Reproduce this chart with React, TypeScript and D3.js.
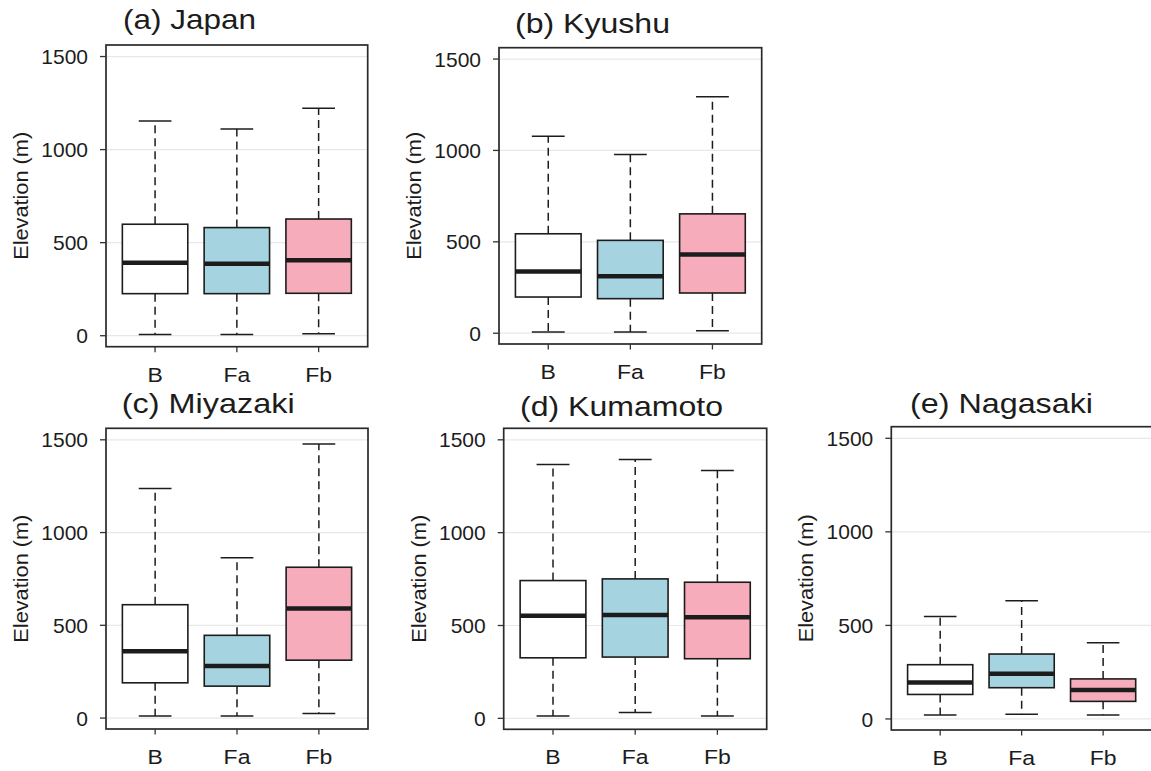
import * as d3 from 'd3';

// Elevation (m) box plot statistics, one row per region, columns B / Fa / Fb
const categories = ['B', 'Fa', 'Fb'];
const regionTitles = ['(a) Japan', '(b) Kyushu', '(c) Miyazaki', '(d) Kumamoto', '(e) Nagasaki'];
const lowerWhisker = [[7, 7, 11], [7, 7, 13], [11, 11, 25], [13, 32, 13], [21, 25, 21]];
const lowerQuartile = [[226, 226, 228], [198, 189, 220], [190, 172, 312], [326, 330, 321], [131, 167, 94]];
const medians = [[392, 387, 405], [337, 311, 431], [360, 281, 591], [552, 557, 545], [195, 242, 155]];
const upperQuartile = [[599, 581, 627], [544, 508, 653], [611, 446, 813], [742, 751, 733], [290, 347, 214]];
const upperWhisker = [[1154, 1111, 1222], [1078, 978, 1294], [1238, 864, 1477], [1367, 1394, 1335], [548, 632, 407]];
const yTicks = [0, 500, 1000, 1500];
const yDomain = [-59, 1562];

const fills = ['#ffffff', '#a5d3e0', '#f7acbc'];

// panel frames (pixel layout)
const panels = [
  { left: 106, right: 367.7, top: 45, bottom: 346.7, titleDx: 17, titleDy: 16, titleLen: 133 },
  { left: 499, right: 761.7, top: 47.7, bottom: 344, titleDx: 16, titleDy: 14.5, titleLen: 155 },
  { left: 106, right: 368, top: 428.3, bottom: 729, titleDx: 15.7, titleDy: 15, titleLen: 173 },
  { left: 503.7, right: 766.7, top: 428.3, bottom: 729.3, titleDx: 16.3, titleDy: 12.5, titleLen: 203 },
  { left: 891.3, right: 1152, top: 426.7, bottom: 730, titleDx: 18.7, titleDy: 13.5, titleLen: 183 },
];

const FONT = "'Liberation Sans', Arial, sans-serif";
const INK = '#1c1c1c';

function Panel({ idx }: { idx: number }) {
  const p = panels[idx];
  const x = d3.scalePoint<string>().domain(categories).range([p.left, p.right]).padding(0.6);
  const y = d3.scaleLinear().domain(yDomain).range([p.bottom, p.top]);
  const step = x.step();
  const boxW = step * 0.8;
  const capW = step * 0.4;

  return (
    <g>
      {/* grid */}
      {yTicks.map(t => (
        <line key={'g' + t} x1={p.left} x2={p.right} y1={y(t)} y2={y(t)} stroke="#e8e8e8" strokeWidth={1.2} />
      ))}

      {categories.map((c, i) => {
        const cx = x(c) as number;
        const lo = lowerWhisker[idx][i];
        const q1 = lowerQuartile[idx][i];
        const md = medians[idx][i];
        const q3 = upperQuartile[idx][i];
        const hi = upperWhisker[idx][i];
        return (
          <g key={c}>
            <line x1={cx} x2={cx} y1={y(q3)} y2={y(hi)} stroke={INK} strokeWidth={1.5} strokeDasharray="8,5" />
            <line x1={cx} x2={cx} y1={y(q1)} y2={y(lo)} stroke={INK} strokeWidth={1.5} strokeDasharray="8,5" />
            <line x1={cx - capW / 2} x2={cx + capW / 2} y1={y(hi)} y2={y(hi)} stroke={INK} strokeWidth={1.5} />
            <line x1={cx - capW / 2} x2={cx + capW / 2} y1={y(lo)} y2={y(lo)} stroke={INK} strokeWidth={1.5} />
            <rect x={cx - boxW / 2} width={boxW} y={y(q3)} height={y(q1) - y(q3)}
              fill={fills[i]} stroke={INK} strokeWidth={1.6} />
            <line x1={cx - boxW / 2} x2={cx + boxW / 2} y1={y(md)} y2={y(md)} stroke={INK} strokeWidth={4.5} />
          </g>
        );
      })}

      {/* frame */}
      <rect x={p.left} y={p.top} width={p.right - p.left} height={p.bottom - p.top}
        fill="none" stroke="#2a2a2a" strokeWidth={1.7} />

      {/* y axis */}
      {yTicks.map(t => (
        <g key={'y' + t}>
          <line x1={p.left - 6} x2={p.left} y1={y(t)} y2={y(t)} stroke="#333333" strokeWidth={1.3} />
          <text x={p.left - 18} y={y(t)} dy="0.36em" textAnchor="end" fontSize={21}
            fontFamily={FONT} fill={INK}>{t}</text>
        </g>
      ))}
      <text transform={`translate(${p.left - 85},${(p.top + p.bottom) / 2}) rotate(-90)`}
        dy="0.36em" textAnchor="middle" fontSize={19.5} fontFamily={FONT} fill={INK}
        textLength={128} lengthAdjust="spacingAndGlyphs">Elevation (m)</text>

      {/* x axis */}
      {categories.map(c => (
        <g key={'x' + c}>
          <line x1={x(c)} x2={x(c)} y1={p.bottom} y2={p.bottom + 5.5} stroke="#333333" strokeWidth={1.3} />
          <text transform={`translate(${x(c)},${p.bottom + 35}) scale(1.18,1)`} textAnchor="middle"
            fontSize={19.5} fontFamily={FONT} fill={INK}>{c}</text>
        </g>
      ))}

      {/* title */}
      <text x={p.left + p.titleDx} y={p.top - p.titleDy} fontSize={27.5} fontFamily={FONT} fill={INK}
        textLength={p.titleLen} lengthAdjust="spacingAndGlyphs">{regionTitles[idx]}</text>
    </g>
  );
}

export default function App() {
  return (
    <div style={{ position: 'absolute', left: 0, top: 0, width: 1151, height: 771, background: '#fff' }}>
      <svg width={1151} height={771} style={{ display: 'block' }}>
        <rect width={1151} height={771} fill="#ffffff" />
        {panels.map((_, i) => <Panel key={i} idx={i} />)}
      </svg>
    </div>
  );
}
